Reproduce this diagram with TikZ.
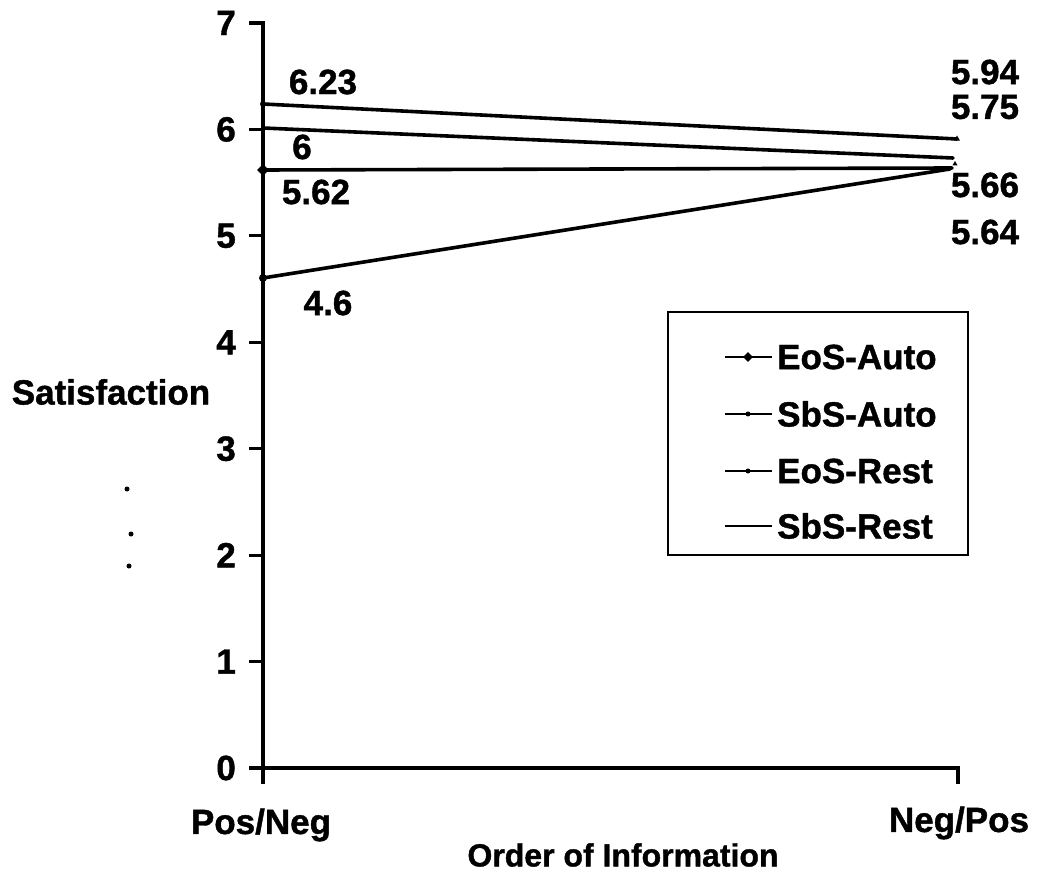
\documentclass[tikz,border=0pt]{standalone}
\usepackage{fontspec}
\setmainfont{Liberation Sans}[BoldFeatures={FakeBold=1.2}]
\usetikzlibrary{shapes.geometric}
\begin{document}
\begin{tikzpicture}[x=1pt,y=-1pt,
  lbl/.style={font=\fontsize{35}{40}\selectfont\bfseries, inner sep=0pt},
  axisline/.style={line width=3.2pt, line cap=rect},
  dataline/.style={line width=3.6pt, line cap=round},
  legline/.style={line width=2.8pt},
  frame/.style={line width=2.2pt},
  dmark/.style={diamond, fill=black, inner sep=0pt, minimum size=12pt},
  smallmark/.style={circle, fill=black, inner sep=0pt, minimum size=6pt},
  trimark/.style={regular polygon, regular polygon sides=3, fill=black, inner sep=0pt, minimum size=7pt},
  speck/.style={circle, fill=black, inner sep=0pt, minimum size=5pt},
]
\useasboundingbox (0,0) rectangle (1037,877);
% axes
\coordinate (T) at (263,23);
\coordinate (O) at (263,768);
\coordinate (R) at (958,768);
\draw[axisline] (T) -- (O) -- (R);
\foreach \k in {0,...,7}{
  \coordinate (tk\k) at (263,{768-\k*106.43});
  \draw[axisline] ([xshift=-12pt]tk\k) -- (tk\k);
  \node[lbl, anchor=east] (tl\k) at ([xshift=-27pt]tk\k) {\k};
}
\coordinate (bx1) at (263,782);
\coordinate (bx2) at (958,782);
\draw[axisline] (O) -- (bx1);
\draw[axisline] (R) -- (bx2);
% axis titles
\node[lbl] (xa) at (261,825) {Pos/Neg};
\node[lbl] (xb) at (959,823) {Neg/Pos};
\node[lbl, font=\fontsize{32}{38}\selectfont\bfseries] (xt) at (623,855) {Order of Information};
\node[lbl] (yt) at (111,392) {Satisfaction};
% data points
\coordinate (a1) at (263,104);
\coordinate (a2) at (957,139);
\coordinate (b1) at (263,128);
\coordinate (b2) at (953,158);
\coordinate (c1) at (263,170);
\coordinate (c2) at (952,168);
\coordinate (d1) at (263,278);
\coordinate (d2) at (950,169);
\draw[dataline] (a1) -- (a2);
\draw[dataline] (b1) -- (b2);
\draw[dataline] (c1) -- (c2);
\draw[dataline] (d1) -- (d2);
\node[dmark] (cm) at (c1) {};
\node[smallmark] (am) at (a1) {};
\node[smallmark, minimum size=8pt] (dm) at (d1) {};
\node[trimark] (am2) at (a2) {};
\node[trimark, minimum size=6pt] (cm2) at (955,164) {};
% data labels
\node[lbl] (l623) at (323,82) {6.23};
\node[lbl] (l6) at (302,147) {6};
\node[lbl] (l562) at (316,192) {5.62};
\node[lbl] (l46) at (328,303) {4.6};
\node[lbl] (l594) at (985,72) {5.94};
\node[lbl] (l575) at (985,107) {5.75};
\node[lbl] (l566) at (985,185) {5.66};
\node[lbl] (l564) at (985,232) {5.64};
% legend
\node[draw, frame, minimum width=300pt, minimum height=243pt, inner sep=0pt] (leg) at (818,433.5) {};
\foreach \t/\yy/\n in {EoS-Auto/357/1, SbS-Auto/414/2, EoS-Rest/471/3, SbS-Rest/526/4}{
  \coordinate (ls\n) at (725,\yy);
  \coordinate (le\n) at (772,\yy);
  \draw[legline] (ls\n) -- (le\n);
  \node[lbl, anchor=west] (lt\n) at (777,\yy) {\t};
}
\node[dmark, minimum size=10pt] (lm1) at (748,357) {};
\node[smallmark, minimum size=5pt] (lm2) at (748,414) {};
\node[smallmark, minimum size=5pt] (lm3) at (748,471) {};
% specks
\node[speck] (s1) at (127,489) {};
\node[speck] (s2) at (131,534) {};
\node[speck] (s3) at (129,566) {};
\end{tikzpicture}
\end{document}
